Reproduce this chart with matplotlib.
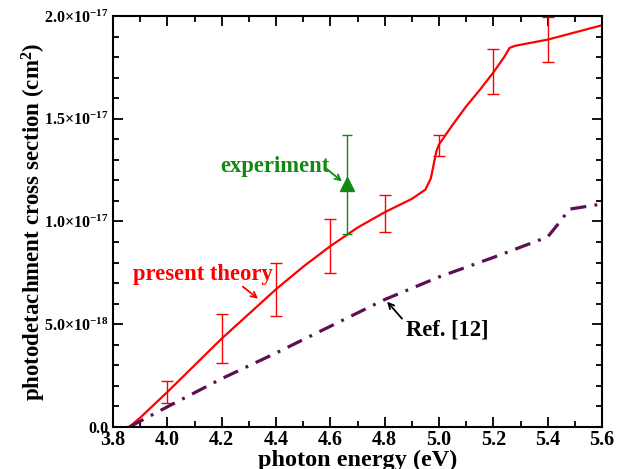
import numpy as np
import matplotlib.pyplot as plt
import matplotlib.transforms as mtransforms
from matplotlib.ticker import MultipleLocator, FixedLocator

plt.rcParams['font.family'] = 'Liberation Serif'
plt.rcParams['font.weight'] = 'bold'
plt.rcParams['mathtext.fontset'] = 'custom'
plt.rcParams['mathtext.rm'] = 'Liberation Serif:bold'
plt.rcParams['mathtext.it'] = 'Liberation Serif:bold'
plt.rcParams['mathtext.bf'] = 'Liberation Serif:bold'

# Datos (cross section in units of 1e-18 cm^2)
teoria_E = [3.86, 3.9, 4.0, 4.1, 4.2, 4.3, 4.4, 4.5, 4.6, 4.7, 4.8, 4.9, 4.95,
            4.97, 4.99, 5.0, 5.05, 5.1, 5.15, 5.2, 5.24, 5.26, 5.28, 5.4, 5.5, 5.6]
teoria_s = [0.0, 0.45, 1.7, 3.0, 4.3, 5.5, 6.7, 7.8, 8.8, 9.7, 10.45, 11.1, 11.55,
            12.1, 13.4, 13.75, 14.7, 15.6, 16.4, 17.25, 18.0, 18.45, 18.55, 18.85, 19.2, 19.55]

barras_E = [4.0, 4.2, 4.4, 4.6, 4.8, 5.0, 5.2, 5.4]
barras_s = [1.7, 4.3, 6.7, 8.8, 10.4, 13.7, 17.3, 18.85]
barras_err = [0.55, 1.2, 1.3, 1.3, 0.9, 0.5, 1.1, 1.1]

ref_E = [3.86, 4.0, 4.2, 4.4, 4.6, 4.8, 5.0, 5.2, 5.4, 5.44, 5.48, 5.6]
ref_s = [0.0, 0.98, 2.35, 3.6, 4.9, 6.2, 7.3, 8.25, 9.25, 9.9, 10.6, 10.85]

exp_E = [4.66]
exp_s = [11.8]
exp_err = [2.4]

xticks = [3.8, 4.0, 4.2, 4.4, 4.6, 4.8, 5.0, 5.2, 5.4, 5.6]
yticks = [0, 5e-18, 1e-17, 1.5e-17, 2e-17]
yticklabels = ['0.0', r'5.0$\times$10$^{-18}$', r'1.0$\times$10$^{-17}$',
               r'1.5$\times$10$^{-17}$', r'2.0$\times$10$^{-17}$']

escala = 1e-18

fig = plt.figure(figsize=(6.25, 4.69), dpi=100)
ax = fig.add_axes([0.1808, 0.0896, 0.7824, 0.8763])

rojo = '#ff0000'
verde = '#128a12'
morado = '#5e0f52'

ax.plot(teoria_E, np.array(teoria_s) * escala, color=rojo, lw=1.6)
ax.errorbar(barras_E, np.array(barras_s) * escala, yerr=np.array(barras_err) * escala,
            fmt='none', ecolor=rojo, elinewidth=1.0, capsize=4, capthick=1.0)
ax.plot(ref_E, np.array(ref_s) * escala, color=morado, lw=2.3,
        linestyle=(0, (5, 2.6, 0.9, 2.6)))
ax.errorbar(exp_E, np.array(exp_s) * escala, yerr=np.array(exp_err) * escala,
            fmt='^', color=verde, ms=10, elinewidth=1.0, capsize=3.5, capthick=1.0)

ax.set_xlim(3.8, 5.6)
ax.set_ylim(0, 2.0e-17)
ax.xaxis.set_major_locator(FixedLocator(xticks))
ax.xaxis.set_minor_locator(MultipleLocator(0.1))
ax.yaxis.set_major_locator(FixedLocator(yticks))
ax.yaxis.set_minor_locator(MultipleLocator(1e-18))
ax.set_xticklabels(['%.1f' % v for v in xticks], fontsize=14.5)
ax.set_yticklabels(yticklabels, fontsize=11.5)
desplazar = mtransforms.ScaledTranslation(0, -0.04, fig.dpi_scale_trans)
for etiqueta in ax.get_yticklabels():
    etiqueta.set_transform(etiqueta.get_transform() + desplazar)
ax.tick_params(which='both', direction='in', top=True, right=True, width=1.3)
ax.tick_params(which='major', length=7)
ax.tick_params(which='minor', length=4)
ax.tick_params(axis='x', pad=2)
for lado in ax.spines.values():
    lado.set_linewidth(1.5)

ax.set_xlabel('photon energy (eV)', fontsize=17.5, fontweight='bold', labelpad=0)
ax.set_ylabel(r'photodetachment cross section (cm$^{2}$)', fontsize=16.5,
              fontweight='bold', labelpad=-3)

ax.text(4.396, 1.268e-17, 'experiment', color=verde, fontsize=16.3,
        fontweight='bold', ha='center', va='center')
ax.text(4.13, 7.41e-18, 'present theory', color=rojo, fontsize=16.3,
        fontweight='bold', ha='center', va='center')
ax.text(5.03, 4.73e-18, 'Ref. [12]', color='black', fontsize=16.3,
        fontweight='bold', ha='center', va='center')
ax.annotate('', xy=(4.643, 1.195e-17), xytext=(4.58, 1.263e-17),
            arrowprops=dict(arrowstyle='->', color=verde, lw=1.3, shrinkA=0, shrinkB=0))
ax.annotate('', xy=(4.334, 6.24e-18), xytext=(4.278, 6.83e-18),
            arrowprops=dict(arrowstyle='->', color=rojo, lw=1.3, shrinkA=0, shrinkB=0))
ax.annotate('', xy=(4.809, 6.1e-18), xytext=(4.864, 5.27e-18),
            arrowprops=dict(arrowstyle='->', color='black', lw=1.3, shrinkA=0, shrinkB=0))

plt.savefig('out.png', dpi=100)
